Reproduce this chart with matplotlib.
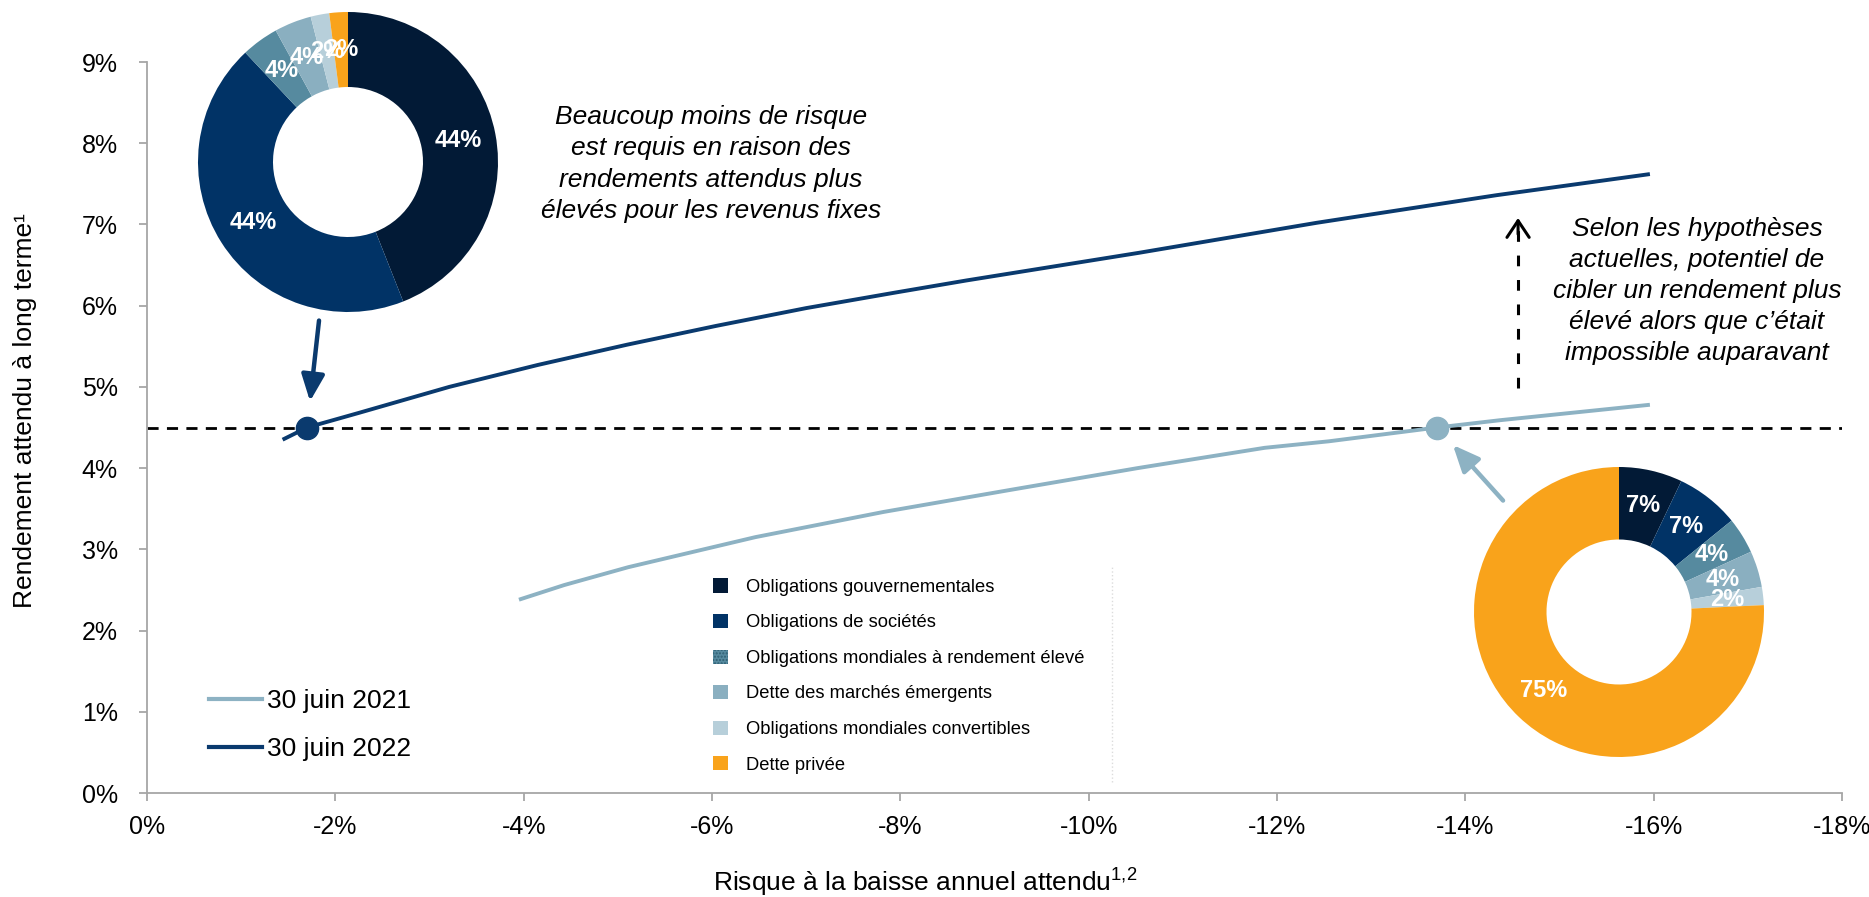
import numpy as np
import matplotlib
matplotlib.use('Agg')
import matplotlib.pyplot as plt
from matplotlib.patches import Patch
from matplotlib.lines import Line2D

plt.rcParams['font.family'] = ['Liberation Sans', 'DejaVu Sans']
plt.rcParams['mathtext.fontset'] = 'custom'
plt.rcParams['mathtext.rm'] = 'Liberation Sans'


# courbes risque / rendement (en %)
risk_2021 = [-3.95, -4.43, -5.11, -6.46, -7.82, -9.16, -10.52, -11.87, -12.55, -13.7, -14.37, -15.96]
ret_2021 = [2.38, 2.56, 2.78, 3.15, 3.46, 3.73, 4.00, 4.25, 4.33, 4.50, 4.59, 4.78]
risk_2022 = [-1.44, -1.7, -2.25, -3.21, -4.15, -5.10, -6.04, -7.0, -7.94, -8.7, -10.53, -12.42, -14.33, -15.96]
ret_2022 = [4.35, 4.50, 4.68, 5.00, 5.27, 5.52, 5.75, 5.97, 6.16, 6.31, 6.65, 7.02, 7.36, 7.62]

target_ret = 4.5
point_2021 = (-13.7, 4.5)
point_2022 = (-1.7, 4.5)

# fleche "potentiel"
up_x = -14.56
up_from = 4.99
up_to = 7.08

categories = ['Obligations gouvernementales', 'Obligations de sociétés',
              'Obligations mondiales à rendement élevé', 'Dette des marchés émergents',
              'Obligations mondiales convertibles', 'Dette privée']
alloc_2022 = [44, 44, 4, 4, 2, 2]
alloc_2021 = [7, 7, 4, 4, 2, 75]

x_ticks = [0, -2, -4, -6, -8, -10, -12, -14, -16, -18]
y_ticks = [0, 1, 2, 3, 4, 5, 6, 7, 8, 9]

cat_colors = ['#021a36', '#013366', '#568a9f', '#8aafc0', '#b7cfda', '#f9a31b']
c2021 = '#8db2c3'
c2022 = '#0a3a6e'

W, H = 1869, 897
fig = plt.figure(figsize=(W/100, H/100), dpi=100)
ax = fig.add_axes([147/W, 1-793/H, (1842-147)/W, (793-62)/H])

ax.plot(risk_2021, ret_2021, color=c2021, lw=2.8, solid_capstyle='butt', solid_joinstyle='round')
ax.plot(risk_2022, ret_2022, color=c2022, lw=2.8, solid_capstyle='butt', solid_joinstyle='round')
ax.axhline(target_ret, color='black', lw=2, dashes=(4, 3), zorder=1)
ax.plot(*point_2021, 'o', ms=16, color=c2021, zorder=5)
ax.plot(*point_2022, 'o', ms=16, color=c2022, zorder=5)

# fleches des beignets vers les points
ax.annotate('', xy=point_2022, xytext=(8.6, 77), textcoords='offset points',
            arrowprops=dict(arrowstyle='-|>,head_length=0.8,head_width=0.35', color=c2022,
                            lw=3.2, shrinkA=0, shrinkB=19, mutation_scale=20))
ax.annotate('', xy=point_2021, xytext=(47.5, -52.6), textcoords='offset points',
            arrowprops=dict(arrowstyle='-|>,head_length=0.8,head_width=0.35', color=c2021,
                            lw=3.2, shrinkA=0, shrinkB=17, mutation_scale=20))

# fleche verticale pointillee
ax.plot([up_x, up_x], [up_from, up_to - 0.05], color='black', lw=2.2, dashes=(3.5, 4.5))
ax.annotate('', xy=(up_x, up_to), xytext=(up_x, up_to - 0.2),
            arrowprops=dict(arrowstyle='->,head_length=0.6,head_width=0.4', color='black',
                            lw=2.2, shrinkA=0, shrinkB=0, mutation_scale=20))

ax.set_xlim(0, -18)
ax.set_ylim(0, 9)
ax.set_xticks(x_ticks)
ax.set_xticklabels([f'{v}%' for v in x_ticks])
ax.set_yticks(y_ticks)
ax.set_yticklabels([f'{v}%' for v in y_ticks])
for s in ['top', 'right']:
    ax.spines[s].set_visible(False)
for s in ['left', 'bottom']:
    ax.spines[s].set_color('#a6a6a6')
    ax.spines[s].set_linewidth(1.3)
ax.tick_params(axis='both', colors='#a6a6a6', length=6, width=1.3, labelcolor='black')
ax.tick_params(axis='x', labelsize=18, pad=10)
ax.tick_params(axis='y', labelsize=18, pad=15)

fig.text(25/W, 1-411/H, 'Rendement attendu à long terme¹', rotation=90,
         ha='center', va='center', fontsize=19)
fig.text(925/W, 1-882/H, r'Risque à la baisse annuel attendu$^{\mathregular{1{,}2}}$',
         ha='center', va='center', fontsize=19)

fig.text(711/W, 1-164/H,
         'Beaucoup moins de risque\nest requis en raison des\nrendements attendus plus\nélevés pour les revenus fixes',
         ha='center', va='center', fontsize=19, style='italic', linespacing=1.37)
fig.text(1697/W, 1-291/H,
         'Selon les hypothèses\nactuelles, potentiel de\ncibler un rendement plus\nélevé alors que c’était\nimpossible auparavant',
         ha='center', va='center', fontsize=19, style='italic', linespacing=1.37)

# legende des courbes
line_handles = [Line2D([], [], color=c2021, lw=3), Line2D([], [], color=c2022, lw=3)]
leg1 = ax.legend(line_handles, ['30 juin 2021', '30 juin 2022'], loc='center left',
                 bbox_to_anchor=(209/W, 1-725/H), bbox_transform=fig.transFigure,
                 frameon=False, fontsize=19, handlelength=2.0, handletextpad=0.2,
                 labelspacing=0.9, borderpad=0, borderaxespad=0)
ax.add_artist(leg1)

# legende des categories
cat_handles = []
for i, c in enumerate(cat_colors):
    if i == 2:
        cat_handles.append(Patch(facecolor=c, edgecolor='#2f5f73', hatch='.....', lw=0))
    else:
        cat_handles.append(Patch(facecolor=c, edgecolor='none'))
ax.legend(cat_handles, categories, loc='center left',
          bbox_to_anchor=(713/W, 1-676/H), bbox_transform=fig.transFigure,
          frameon=False, fontsize=13.2, handlelength=0.8, handleheight=0.8,
          handletextpad=1.0, labelspacing=0.99, borderpad=0, borderaxespad=0)
fig.add_artist(Line2D([1112/W, 1112/W], [1-782/H, 1-565/H], color='#dcdcdc', lw=1, ls=':'))


def donut(rect, values):
    dax = fig.add_axes(rect)
    dax.pie(values, colors=cat_colors, startangle=90, counterclock=False, radius=1,
            wedgeprops=dict(width=0.5, linewidth=0))
    total = float(sum(values))
    start = 0
    for v in values:
        ang = np.deg2rad(90 - (start + v / 2) / total * 360)
        dax.text(0.75 * np.cos(ang), 0.75 * np.sin(ang), f'{v}%', color='white',
                 fontsize=17, fontweight='bold', ha='center', va='center')
        start += v
    dax.set_xlim(-1, 1)
    dax.set_ylim(-1, 1)
    dax.set_aspect('equal')
    dax.axis('off')


donut([198/W, 1-312/H, 300/W, 300/H], alloc_2022)
donut([1474/W, 1-757/H, 290/W, 290/H], alloc_2021)

fig.savefig('out.png', dpi=100)
